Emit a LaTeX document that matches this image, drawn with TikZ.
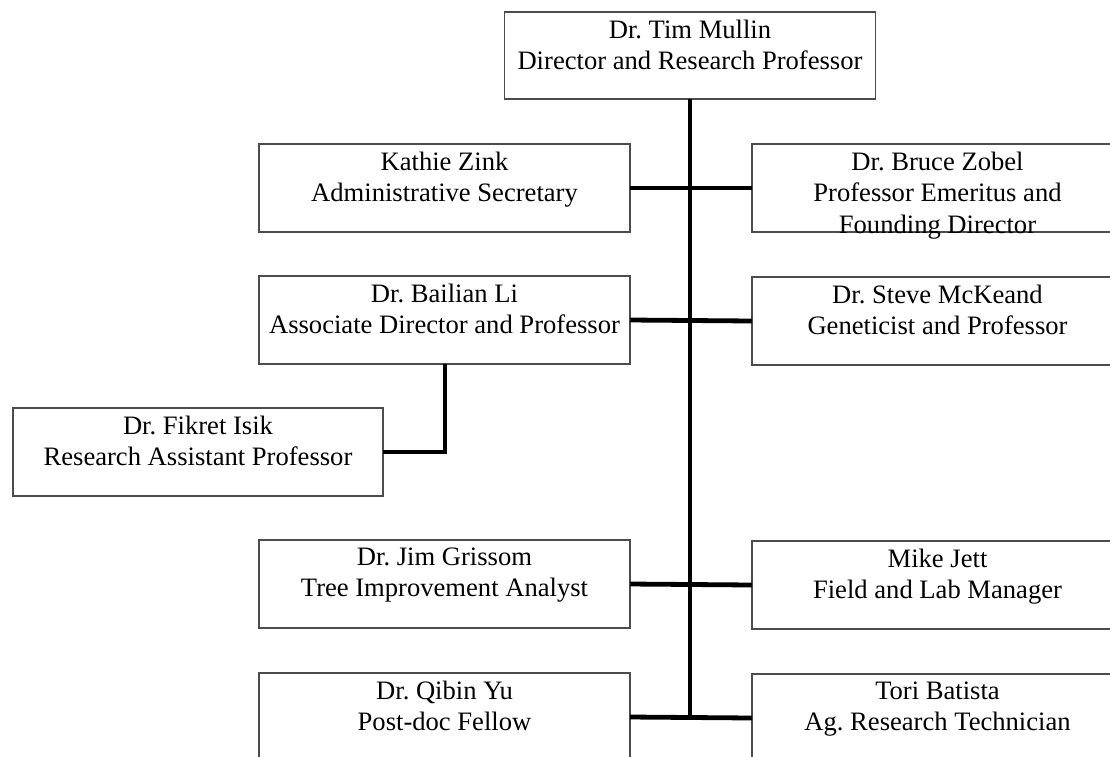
\documentclass[tikz,border=0pt]{standalone}
\usepackage{fontspec}
\setmainfont{Liberation Serif}
\frenchspacing
\begin{document}
\begin{tikzpicture}[x=1pt,y=-1pt,
  box/.style={draw=black!70,line width=1.1pt,fill=white,minimum width=371pt,minimum height=88pt,inner sep=0pt,outer sep=0pt},
  lbl/.style={anchor=north,align=center,inner sep=0pt,yshift=-7.5pt,font=\frenchspacing\fontsize{26.6}{31.5}\selectfont},
  link/.style={line width=4.8pt,black}]
\useasboundingbox (0,0) rectangle (1110,756);
\clip (0,0) rectangle (1110,756);
\fill[white] (0,0) rectangle (1110,756);
% boxes
\node[box,minimum height=87pt] (mullin) at (690,55.5) {};
\node[box] (zink) at (444.5,188) {};
\node[box] (zobel) at (937.5,188) {};
\node[box] (li) at (444.5,320) {};
\node[box] (mckeand) at (937.5,321) {};
\node[box,minimum width=370pt] (isik) at (198,452) {};
\node[box] (grissom) at (444.5,584) {};
\node[box] (jett) at (937.5,585) {};
\node[box] (yu) at (444.5,717) {};
\node[box] (batista) at (937.5,718) {};
% labels
\node[lbl] (mullin-t) at (mullin.north) {Dr. Tim Mullin\\Director and Research Professor};
\node[lbl] (zink-t) at (zink.north) {Kathie Zink\\Administrative Secretary};
\node[lbl] (zobel-t) at (zobel.north) {Dr. Bruce Zobel\\Professor Emeritus and\\Founding Director};
\node[lbl] (li-t) at (li.north) {Dr. Bailian Li\\Associate Director and Professor};
\node[lbl] (mckeand-t) at (mckeand.north) {Dr. Steve McKeand\\Geneticist and Professor};
\node[lbl] (isik-t) at (isik.north) {Dr. Fikret Isik\\Research Assistant Professor};
\node[lbl] (grissom-t) at (grissom.north) {Dr. Jim Grissom\\Tree Improvement Analyst};
\node[lbl] (jett-t) at (jett.north) {Mike Jett\\Field and Lab Manager};
\node[lbl] (yu-t) at (yu.north) {Dr. Qibin Yu\\Post-doc Fellow};
\node[lbl] (batista-t) at (batista.north) {Tori Batista\\Ag. Research Technician};
% connectors
\coordinate (trunkend) at (mullin.south |- yu.east);
\coordinate (lidrop) at (445,364);
\draw[link] (mullin.south) -- (trunkend);
\draw[link] (zink.east) -- (zobel.west);
\draw[link] (li.east) -- (mckeand.west);
\draw[link] (grissom.east) -- (jett.west);
\draw[link] (yu.east) -- (batista.west);
\draw[link] (lidrop) |- (isik.east);
\end{tikzpicture}
\end{document}
